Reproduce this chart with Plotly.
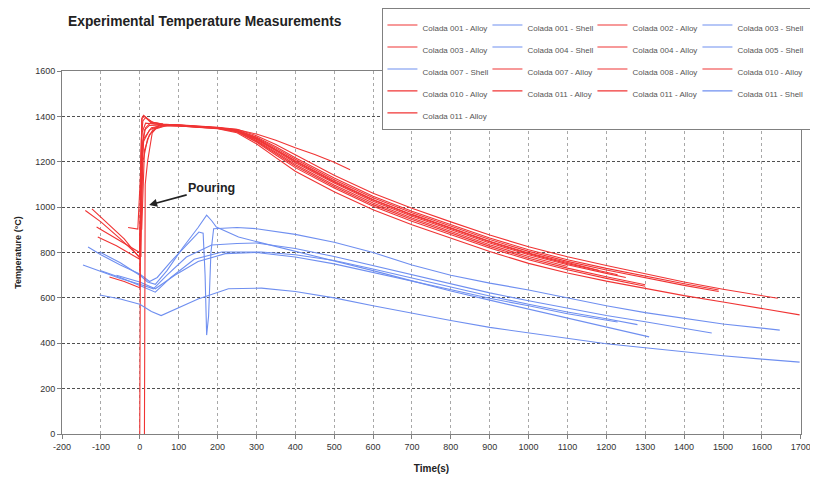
import plotly.graph_objects as go

# ---------------- data ----------------
t_001_alloy = [-140, -100, -50, -5, 0, 3, 6, 10, 20, 35, 60, 100, 150, 200, 250, 300, 350, 400, 500, 600, 700, 800, 900, 1000, 1100, 1200, 1300, 1400, 1500, 1600, 1641]
y_001_alloy = [985, 935, 860, 790, 780, 1200, 1395, 1405, 1390, 1372, 1365, 1363, 1358, 1352, 1343, 1315, 1276, 1231, 1141, 1061, 995, 935, 877, 825, 781, 743, 706, 670, 638, 608, 598]

t_001_shell = [-133, -100, -50, 0, 25, 45, 80, 120, 152, 163, 168, 172, 177, 183, 190, 250, 300, 400, 500, 600, 700, 800, 900, 1000, 1100, 1200, 1300, 1400, 1500, 1646]
y_001_shell = [824, 790, 745, 705, 672, 690, 760, 830, 890, 885, 700, 436, 520, 800, 905, 910, 905, 880, 845, 800, 745, 700, 665, 635, 600, 565, 535, 510, 485, 458]

t_002_alloy = [-123, -90, -40, 0, 4, 8, 15, 30, 60, 100, 150, 200, 250, 300, 350, 400, 500, 600, 700, 800, 900, 1000, 1100, 1200, 1300, 1400, 1489]
y_002_alloy = [992, 940, 860, 775, 1300, 1380, 1395, 1375, 1365, 1362, 1356, 1351, 1340, 1309, 1266, 1218, 1128, 1048, 982, 922, 864, 812, 768, 730, 695, 662, 635]

t_003_shell = [-103, -50, 0, 20, 40, 70, 110, 150, 172, 185, 197, 254, 300, 400, 500, 600, 700, 800, 900, 1000, 1100, 1200, 1310]
y_003_shell = [802, 755, 700, 670, 660, 720, 820, 910, 965, 940, 912, 868, 848, 805, 765, 720, 675, 630, 590, 550, 510, 470, 428]

t_003_alloy = [-111, -60, 0, 5, 12, 25, 60, 100, 150, 200, 250, 300, 350, 400, 500, 600, 700, 800, 900, 1000, 1100, 1200, 1300, 1400, 1489]
y_003_alloy = [912, 860, 800, 1250, 1340, 1360, 1362, 1360, 1355, 1350, 1339, 1306, 1260, 1211, 1121, 1041, 975, 915, 857, 805, 761, 723, 688, 655, 628]

t_004_shell = [-146, -100, -50, 0, 35, 70, 120, 185, 250, 300, 400, 500, 600, 700, 800, 900, 1000, 1100, 1200, 1300, 1400, 1471]
y_004_shell = [745, 715, 685, 660, 640, 700, 780, 833, 840, 842, 818, 782, 742, 702, 662, 622, 587, 553, 522, 495, 467, 445]

t_004_alloy = [-108, -60, 0, 4, 10, 25, 50, 100, 150, 200, 250, 300, 350, 400, 500, 600, 700, 800, 900, 1000, 1100, 1200, 1229]
y_004_alloy = [868, 830, 770, 1150, 1290, 1340, 1360, 1360, 1354, 1349, 1337, 1301, 1252, 1201, 1111, 1031, 965, 905, 847, 795, 751, 713, 702]

t_005_shell = [-100, -50, 0, 40, 80, 140, 211, 313, 400, 500, 600, 700, 800, 900, 1000, 1100, 1200, 1280]
y_005_shell = [720, 690, 655, 625, 690, 770, 802, 802, 790, 765, 727, 687, 647, 608, 572, 538, 508, 482]

t_007_shell = [-60, 0, 40, 90, 150, 220, 300, 400, 500, 600, 700, 800, 900, 1000, 1100, 1229]
y_007_shell = [700, 670, 640, 700, 760, 795, 800, 780, 750, 712, 672, 634, 598, 565, 530, 494]

t_007_alloy = [-30, -5, 2, 6, 15, 40, 100, 150, 200, 250, 300, 350, 400, 450, 500, 541]
y_007_alloy = [910, 903, 1150, 1330, 1370, 1365, 1362, 1356, 1351, 1342, 1322, 1295, 1262, 1232, 1198, 1165]

t_008_alloy = [-78, -40, 0, 3, 10, 30, 60, 100, 150, 200, 250, 300, 350, 400, 500, 600, 700, 800, 900, 1000, 1100, 1200, 1300]
y_008_alloy = [692, 672, 645, 1100, 1300, 1350, 1360, 1358, 1352, 1348, 1333, 1290, 1236, 1181, 1091, 1011, 945, 885, 827, 775, 731, 693, 658]

t_010a_alloy = [0, 2, 5, 12, 30, 60, 100, 150, 200, 250, 300, 350, 400, 500, 600, 700, 800, 900, 1000, 1100, 1200, 1300, 1400, 1500, 1600, 1697]
y_010a_alloy = [0, 1000, 1390, 1400, 1370, 1362, 1358, 1352, 1346, 1328, 1279, 1218, 1158, 1068, 988, 922, 862, 804, 752, 710, 674, 641, 610, 582, 553, 525]

t_010b_alloy = [12, 14, 20, 32, 50, 100, 150, 200, 250, 300, 350, 400, 500, 600, 700, 800, 900, 1000, 1100, 1200, 1300]
y_010b_alloy = [0, 1100, 1200, 1327, 1362, 1360, 1352, 1347, 1332, 1287, 1230, 1174, 1084, 1004, 938, 878, 820, 768, 724, 686, 651]

t_011a_alloy = [0, 8, 20, 35, 60, 100, 150, 200, 250, 300, 350, 400, 500, 600, 700, 800, 900, 1000, 1100, 1200, 1250]
y_011a_alloy = [720, 1200, 1300, 1345, 1358, 1358, 1354, 1350, 1336, 1298, 1248, 1196, 1106, 1026, 960, 900, 842, 790, 746, 708, 690]

t_011b_alloy = [5, 12, 25, 40, 70, 100, 150, 200, 250, 300, 350, 400, 500, 600, 700, 800, 900, 1000, 1100, 1180]
y_011b_alloy = [900, 1250, 1320, 1345, 1360, 1360, 1354, 1350, 1338, 1302, 1254, 1204, 1114, 1034, 968, 908, 850, 798, 754, 722]

t_011_shell = [-103, -50, 0, 30, 55, 100, 150, 228, 313, 400, 500, 600, 700, 800, 900, 1000, 1100, 1200, 1300, 1400, 1500, 1600, 1697]
y_011_shell = [613, 595, 572, 540, 522, 555, 595, 640, 643, 628, 600, 565, 532, 500, 470, 445, 420, 398, 380, 362, 345, 330, 317]

t_011c_alloy = [3, 7, 15, 30, 60, 100, 150, 200, 250, 300, 350, 400, 500, 600, 700, 800, 900, 1000, 1100]
y_011c_alloy = [780, 1280, 1350, 1375, 1366, 1361, 1355, 1349, 1334, 1294, 1242, 1188, 1098, 1018, 952, 892, 834, 782, 738]

x_ticks = list(range(-200, 1701, 100))
y_ticks = list(range(0, 1601, 200))

RED = '#f03434'
BLUE = '#6f8ff0'

# (legend label, time, temperature, colour, legend column)
series = [
    ("Colada 001 - Alloy", t_001_alloy, y_001_alloy, RED, "c1"),
    ("Colada 001 - Shell", t_001_shell, y_001_shell, BLUE, "c2"),
    ("Colada 002 - Alloy", t_002_alloy, y_002_alloy, RED, "c3"),
    ("Colada 003 - Shell", t_003_shell, y_003_shell, BLUE, "c4"),
    ("Colada 003 - Alloy", t_003_alloy, y_003_alloy, RED, "c1"),
    ("Colada 004 - Shell", t_004_shell, y_004_shell, BLUE, "c2"),
    ("Colada 004 - Alloy", t_004_alloy, y_004_alloy, RED, "c3"),
    ("Colada 005 - Shell", t_005_shell, y_005_shell, BLUE, "c4"),
    ("Colada 007 - Shell", t_007_shell, y_007_shell, BLUE, "c1"),
    ("Colada 007 - Alloy", t_007_alloy, y_007_alloy, RED, "c2"),
    ("Colada 008 - Alloy", t_008_alloy, y_008_alloy, RED, "c3"),
    ("Colada 010 - Alloy", t_010a_alloy, y_010a_alloy, RED, "c4"),
    ("Colada 010 - Alloy", t_010b_alloy, y_010b_alloy, RED, "c1"),
    ("Colada 011 - Alloy", t_011a_alloy, y_011a_alloy, RED, "c2"),
    ("Colada 011 - Alloy", t_011b_alloy, y_011b_alloy, RED, "c3"),
    ("Colada 011 - Shell", t_011_shell, y_011_shell, BLUE, "c4"),
    ("Colada 011 - Alloy", t_011c_alloy, y_011c_alloy, RED, "c1"),
]

fig = go.Figure()
for name, t, y, c, grp in series:
    fig.add_trace(go.Scatter(
        x=t, y=y, mode='lines', line=dict(color=c, width=1.1),
        name='<span style="font-size:8px">' + name + '</span>',
        legendgroup=grp,
        legendwidth=(68 if grp == "c4" else 60),
    ))

FONT = 'Liberation Sans, Arial, sans-serif'

# page body has an 8px margin: figure is drawn 8px in from the window edge
W, H = 810, 469
fig.update_layout(
    width=W, height=H,
    margin=dict(l=54, r=17, t=63, b=43, autoexpand=False),
    paper_bgcolor='white', plot_bgcolor='white',
    font=dict(family=FONT, size=9, color='#333'),
    title=dict(text='<b>Experimental Temperature Measurements</b>',
               x=60 / W, xanchor='left', y=1 - 13 / H, yanchor='middle',
               font=dict(family=FONT, size=13.8, color='#222')),
    showlegend=True,
    legend=dict(
        x=0.4336, xanchor='left', y=1.1736, yanchor='top',
        orientation='h', traceorder='grouped', tracegroupgap=0,
        entrywidthmode='pixels', entrywidth=60,
        bordercolor='#808080', borderwidth=1, bgcolor='white',
        font=dict(family=FONT, size=14.6, color='#555'),
        itemwidth=30,
    ),
    xaxis=dict(
        range=[-200, 1700.6], tickvals=x_ticks, ticktext=[str(v) for v in x_ticks],
        showgrid=True, gridcolor='#a8a8a8', griddash='3px,3px', gridwidth=1,
        zeroline=False, showline=True, linecolor='#808080', linewidth=1, mirror=True,
        ticks='outside', ticklen=4, tickcolor='#808080',
        tickfont=dict(family=FONT, size=9, color='#333'),
        title=dict(text='<b>Time(s)</b>', font=dict(family=FONT, size=10, color='#222'), standoff=14),
    ),
    yaxis=dict(
        range=[0, 1600], tickvals=y_ticks, ticktext=[str(v) for v in y_ticks],
        showgrid=True, gridcolor='#505050', griddash='3px,2px', gridwidth=1,
        zeroline=False, showline=True, linecolor='#808080', linewidth=1, mirror=True,
        ticks='outside', ticklen=4, tickcolor='#808080',
        tickfont=dict(family=FONT, size=9, color='#333'),
        title=dict(text='<b>Temperature (°C)</b>', font=dict(family=FONT, size=9, color='#222'), standoff=12),
    ),
)

fig.add_annotation(
    x=24, y=1009, xref='x', yref='y',
    ax=185, ay=1084, axref='x', ayref='y',
    text='<b>Pouring</b>', showarrow=True,
    arrowhead=2, arrowsize=1, arrowwidth=1.6, arrowcolor='#222',
    font=dict(family=FONT, size=12.5, color='#222'),
)

fig.write_html("out.html")
